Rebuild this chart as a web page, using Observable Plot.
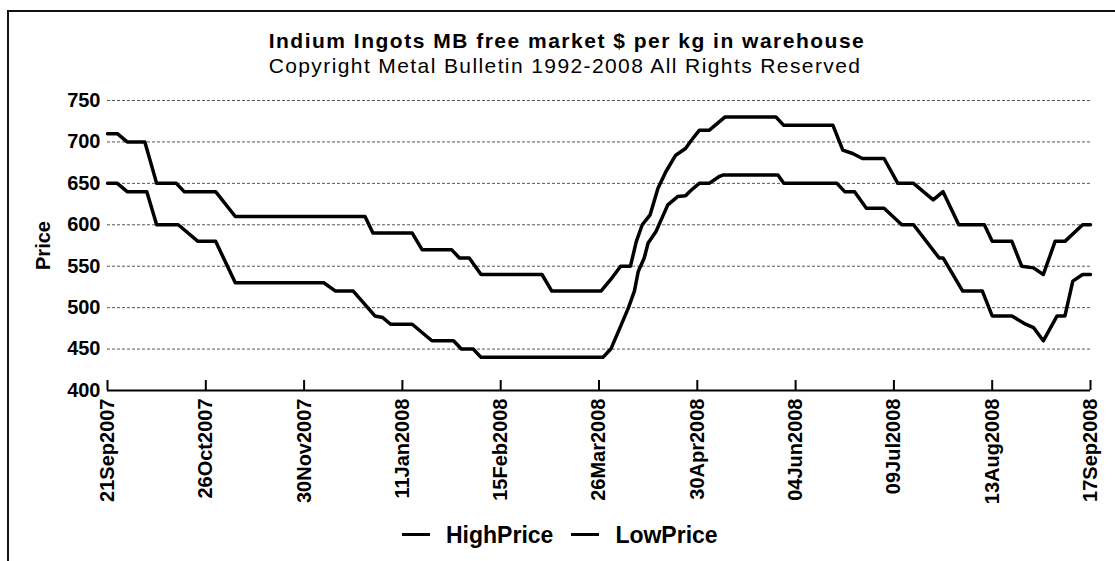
<!DOCTYPE html>
<html>
<head>
<meta charset="utf-8">
<script src="https://cdn.jsdelivr.net/npm/d3@7"></script>
<script src="https://cdn.jsdelivr.net/npm/@observablehq/plot@0.6"></script>
<style>
  html, body { margin: 0; padding: 0; background: #fff; }
  #page { position: relative; width: 1115px; height: 561px; overflow: hidden; background: #fff; font-family: "Liberation Sans", Arial, sans-serif; color: #000; }
  #frame { position: absolute; left: 7px; top: 10px; width: 1120px; height: 560px; border-top: 2px solid #111; border-left: 2px solid #111; }
  #title { position: absolute; left: 0; width: 1134px; top: 30px; text-align: center; font-size: 21px; font-weight: bold; line-height: 21px; letter-spacing: 1.5px; }
  #subtitle { position: absolute; left: 0; width: 1130px; top: 55px; text-align: center; font-size: 21px; line-height: 21px; letter-spacing: 1.4px; }
  #chart { position: absolute; left: 0; top: 80px; }
  #chart svg text { font-weight: bold; }
  #legend { position: absolute; left: 402px; top: 522px; display: flex; align-items: center; font-size: 23px; font-weight: bold; line-height: 26px; }
  .sw { width: 28px; height: 3px; background: #000; margin-right: 16px; margin-top: -2px; }
  .lab { margin-right: 18px; }
</style>
</head>
<body>
<div id="page">
  <div id="frame"></div>
  <div id="title">Indium Ingots MB free market $ per kg in warehouse</div>
  <div id="subtitle">Copyright Metal Bulletin 1992-2008 All Rights Reserved</div>
  <div id="chart"></div>
  <div id="legend"></div>
</div>
<script>
// Trading-day index (0 = 21Sep2007, 250 = 17Sep2008) and tick labels
const tickDays = [0, 25, 50, 75, 100, 125, 150, 175, 200, 225, 250];
const tickLabels = ["21Sep2007", "26Oct2007", "30Nov2007", "11Jan2008", "15Feb2008", "26Mar2008",
                    "30Apr2008", "04Jun2008", "09Jul2008", "13Aug2008", "17Sep2008"];
const yTicks = [400, 450, 500, 550, 600, 650, 700, 750];
const seriesNames = ["HighPrice", "LowPrice"];

// HighPrice vertices (trading day, $/kg)
const highDay = [0, 2.5, 5, 9.5, 12.5, 17.5, 19.5, 27.5, 32.5, 65.5, 67.5, 77.5, 80, 87.5, 89.5, 92, 95,
  110.5, 113, 125.5, 128, 130.5, 133, 134.5, 136, 138, 140, 142, 144.5, 147, 148.5, 150.5, 153, 157,
  170, 172, 184.5, 187, 189.5, 192, 197.5, 201, 205, 210, 212.5, 216.5, 223, 225, 230, 232.5, 235.5,
  238, 241, 243.5, 248, 250];
const highPrice = [710, 710, 700, 700, 650, 650, 640, 640, 610, 610, 590, 590, 570, 570, 560, 560, 540,
  540, 520, 520, 534, 550, 550, 580, 600, 612, 644, 664, 684, 692, 702, 714, 714, 730,
  730, 720, 720, 690, 686, 680, 680, 650, 650, 630, 640, 600, 600, 580, 580, 550, 548,
  540, 580, 580, 600, 600];

// LowPrice vertices (trading day, $/kg)
const lowDay = [0, 2.5, 5, 10, 12.5, 18, 23, 27.5, 32.5, 55, 58, 62.5, 68, 70, 72, 77.5, 82.5, 88, 90,
  93, 95, 126, 128, 130, 132.5, 134, 135, 136.5, 137.5, 139.5, 141, 142.5, 145, 147, 148.5, 150.5,
  153, 155.5, 156.5, 170.5, 172, 185.5, 187.5, 190, 193, 197.5, 202, 205, 211.5, 212.5, 217.5, 222.5,
  225, 230, 233.5, 235.5, 238, 241.5, 243.5, 245.5, 248, 250];
const lowPrice = [650, 650, 640, 640, 600, 600, 580, 580, 530, 530, 520, 520, 490, 488, 480, 480, 460, 460, 450,
  450, 440, 440, 450, 472, 500, 520, 544, 560, 578, 592, 608, 624, 634, 635, 642, 650,
  650, 658, 660, 660, 650, 650, 640, 640, 620, 620, 600, 600, 560, 560, 520, 520,
  490, 490, 480, 476, 460, 490, 490, 532, 540, 540];

const data = [
  ...highDay.map((d, i) => ({day: d, price: highPrice[i], series: seriesNames[0]})),
  ...lowDay.map((d, i) => ({day: d, price: lowPrice[i], series: seriesNames[1]}))
];

const chart = Plot.plot({
  width: 1115,
  height: 435,
  marginLeft: 107,
  marginRight: 25,
  marginTop: 20,
  marginBottom: 125,
  style: {fontFamily: "'Liberation Sans', Arial, sans-serif", background: "transparent", color: "#000"},
  x: {domain: [0, 250]},
  y: {domain: [400, 750]},
  marks: [
    Plot.ruleY(yTicks.filter(v => v > 400), {stroke: "#555", strokeWidth: 1, strokeDasharray: "3,2"}),
    Plot.ruleY([400], {stroke: "#000", strokeWidth: 2}),
    Plot.ruleX(tickDays, {y1: 400, y2: 412, stroke: "#000", strokeWidth: 2}),
    Plot.axisY(yTicks, {tickSize: 0, tickPadding: 7, fontSize: 20, label: "Price", labelArrow: "none", labelAnchor: "center", labelOffset: 72}),
    Plot.axisX(tickDays, {tickSize: 0, tickPadding: 8, tickRotate: -90, fontSize: 20,
      tickFormat: (d) => tickLabels[tickDays.indexOf(d)], label: null}),
    Plot.line(data, {x: "day", y: "price", z: "series", stroke: "#000", strokeWidth: 3.5, strokeLinejoin: "round"})
  ]
});
document.getElementById("chart").appendChild(chart);

const legend = document.getElementById("legend");
seriesNames.forEach(name => {
  const sw = document.createElement("div"); sw.className = "sw"; legend.appendChild(sw);
  const lab = document.createElement("div"); lab.className = "lab"; lab.textContent = name; legend.appendChild(lab);
});
</script>
</body>
</html>
